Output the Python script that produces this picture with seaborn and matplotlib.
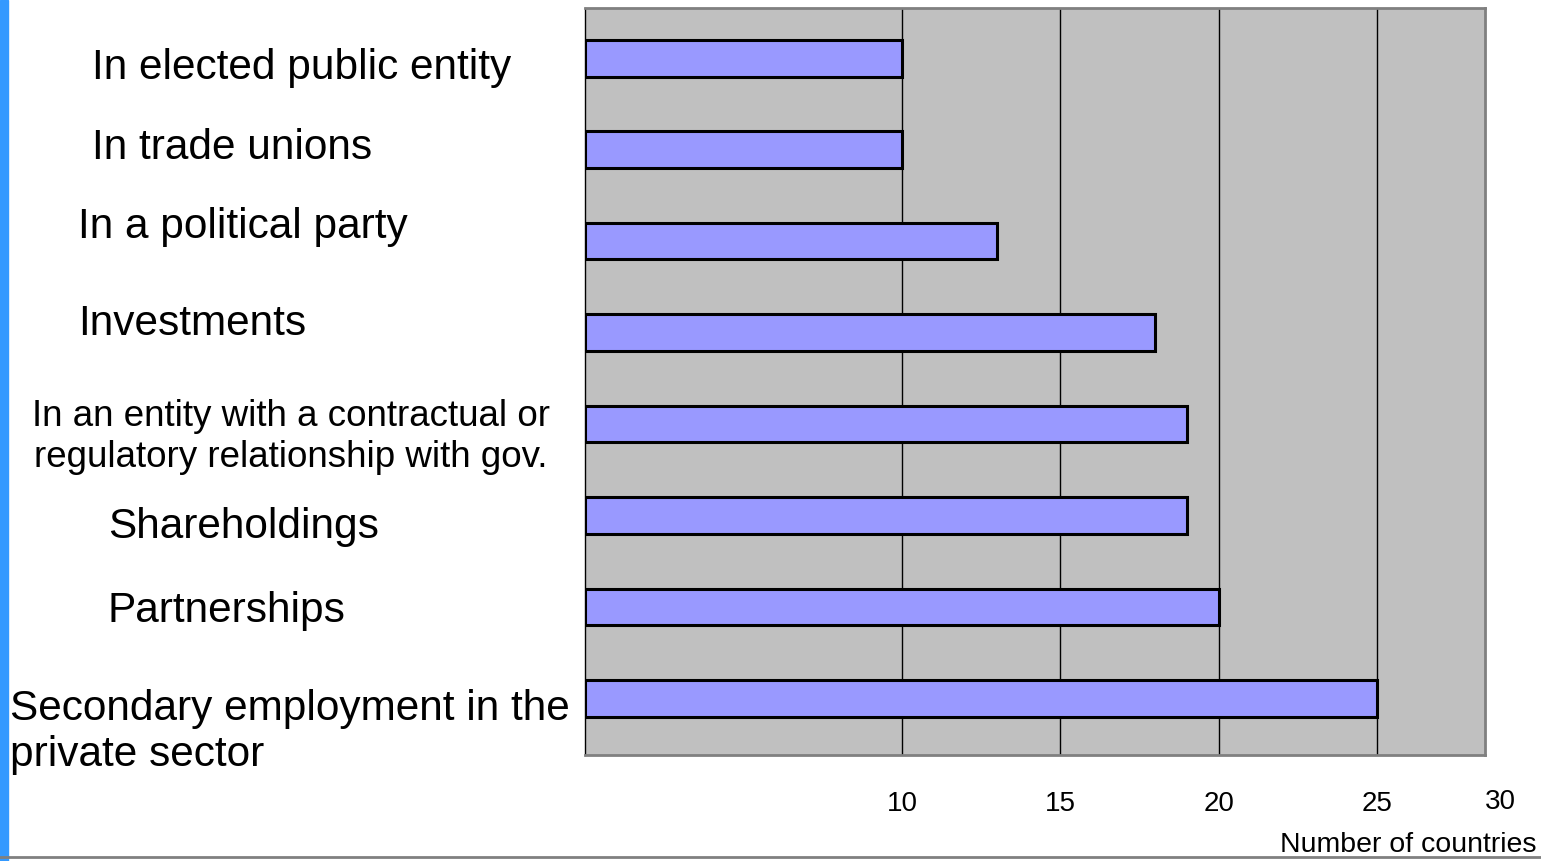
import matplotlib
matplotlib.use('Agg')
import matplotlib.pyplot as plt
from matplotlib.patches import Rectangle
from matplotlib.lines import Line2D
import seaborn as sns
import pandas as pd

categories = ['In elected public entity', 'In trade unions', 'In a political party', 'Investments',
              'In an entity with a contractual or\nregulatory relationship with gov.',
              'Shareholdings', 'Partnerships', 'Secondary employment in the\nprivate sector']
countries = [10, 10, 13, 18, 19, 19, 20, 25]
tick_vals = [10, 15, 20, 25]

df = pd.DataFrame({'category': categories, 'countries': countries})

sns.set_style('white')
plt.rcParams['font.family'] = ['Liberation Sans', 'DejaVu Sans']
plt.rcParams['text.color'] = 'black'
plt.rcParams['xtick.color'] = 'black'

W, H = 1541, 861
fig = plt.figure(figsize=(W / 100, H / 100), dpi=100)
ax = fig.add_axes([585 / W, 1 - 755 / H, 900 / W, 747 / H])
ax.set_facecolor('#C0C0C0')

sns.barplot(data=df, x='countries', y='category', orient='h', color='#9999FF', saturation=1,
            edgecolor='black', linewidth=2.2, width=0.4, ax=ax, zorder=3)

ax.set_xlim(0, 28.4)
ax.set_ylim(7.62, -0.55)
ax.set_xticks(tick_vals)
ax.set_xticklabels([str(t) for t in tick_vals], fontsize=20)
ax.set_xticks([0], minor=True)
ax.tick_params(axis='x', which='major', direction='out', length=6, width=1, color='black',
               labelcolor='black', pad=20)
ax.tick_params(axis='x', which='minor', direction='out', length=32, width=1, color='black')
ax.tick_params(axis='y', length=0)
ax.set_yticklabels([])
ax.set_xlabel('')
ax.set_ylabel('')
ax.grid(axis='x', color='black', linewidth=1, zorder=1)
ax.set_axisbelow(True)

for side in ['top', 'right', 'bottom']:
    ax.spines[side].set_color('#808080')
    ax.spines[side].set_linewidth(2)
ax.spines['left'].set_color('black')
ax.spines['left'].set_linewidth(1)

# category labels placed freely on the left, like the original slide
label_x = [92, 92, 78, 78, 291, 108, 108, 10]
label_dy = [-10, 2, 14, 9, -13, -12, -4, -34]
label_ha = ['left', 'left', 'left', 'left', 'center', 'left', 'left', 'left']
label_size = [30.5, 30.5, 30.5, 30.5, 26.5, 30.5, 30.5, 30.5]
for i, lab in enumerate(categories):
    ax.annotate(lab, xy=(label_x[i] / W, i), xycoords=('figure fraction', 'data'),
                xytext=(0, label_dy[i]), textcoords='offset pixels',
                ha=label_ha[i], va='center', fontsize=label_size[i], multialignment=label_ha[i],
                annotation_clip=False, color='black')

ax.annotate('30', xy=(1, 0), xycoords='axes fraction', xytext=(15, -47), textcoords='offset pixels',
            ha='center', va='center', fontsize=20, annotation_clip=False, color='black')
fig.text(1537 / W, 1 - 845 / H, 'Number of countries', ha='right', va='center', fontsize=20.5,
         color='black')

# slide decorations
fig.add_artist(Rectangle((0, 0), 8 / W, 1, transform=fig.transFigure, color='#3399FF', zorder=0))
fig.add_artist(Line2D([0, 1], [1 - 857 / H, 1 - 857 / H], transform=fig.transFigure,
                      color='#808080', linewidth=2))

fig.savefig('out.png', dpi=100)
